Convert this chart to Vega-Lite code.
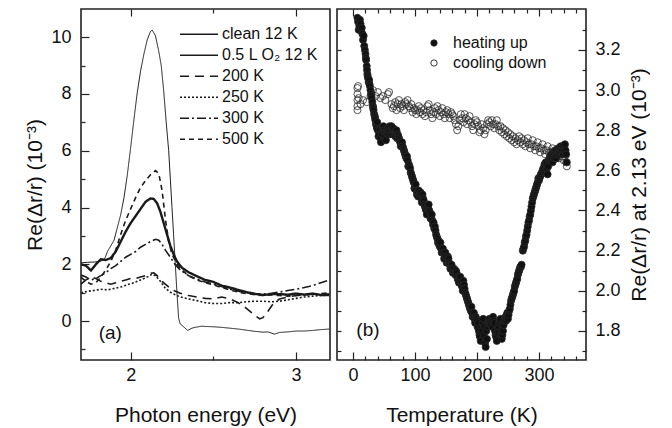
{
  "$schema": "https://vega.github.io/schema/vega-lite/v6.json",
  "padding": {"left": 24, "top": 7, "right": 0, "bottom": 0},
  "spacing": 4,
  "config": {
    "view": {"stroke": "#222", "strokeWidth": 1.6},
    "font": "Liberation Sans",
    "axis": {"domain": false, "grid": false, "tickColor": "#222", "tickWidth": 1.2, "labelFont": "Liberation Sans", "labelFontSize": 18, "labelColor": "#111", "titleFont": "Liberation Sans", "titleFontSize": 21, "titleFontWeight": "normal", "titleColor": "#111", "labelOverlap": false, "labelFlush": false}
  },
  "datasets": {
    "spectra": [
      {"s":"clean 12 K","e":1.70,"v":2.05},{"s":"clean 12 K","e":1.74,"v":2.07},{"s":"clean 12 K","e":1.78,"v":2.08},{"s":"clean 12 K","e":1.81,"v":2.10},{"s":"clean 12 K","e":1.84,"v":2.15},{"s":"clean 12 K","e":1.86,"v":2.45},{"s":"clean 12 K","e":1.88,"v":2.65},{"s":"clean 12 K","e":1.90,"v":2.85},{"s":"clean 12 K","e":1.92,"v":3.3},{"s":"clean 12 K","e":1.94,"v":3.75},{"s":"clean 12 K","e":1.96,"v":4.35},{"s":"clean 12 K","e":1.98,"v":5.15},{"s":"clean 12 K","e":2.00,"v":6.1},{"s":"clean 12 K","e":2.02,"v":7.1},{"s":"clean 12 K","e":2.04,"v":8.05},{"s":"clean 12 K","e":2.06,"v":8.8},{"s":"clean 12 K","e":2.08,"v":9.4},{"s":"clean 12 K","e":2.10,"v":9.9},{"s":"clean 12 K","e":2.12,"v":10.2},{"s":"clean 12 K","e":2.13,"v":10.25},{"s":"clean 12 K","e":2.15,"v":10.05},{"s":"clean 12 K","e":2.17,"v":9.5},{"s":"clean 12 K","e":2.185,"v":9.0},{"s":"clean 12 K","e":2.20,"v":8.1},{"s":"clean 12 K","e":2.215,"v":7.0},{"s":"clean 12 K","e":2.23,"v":6.0},{"s":"clean 12 K","e":2.24,"v":5.0},{"s":"clean 12 K","e":2.25,"v":4.0},{"s":"clean 12 K","e":2.26,"v":3.0},{"s":"clean 12 K","e":2.27,"v":2.0},{"s":"clean 12 K","e":2.28,"v":1.0},{"s":"clean 12 K","e":2.29,"v":0.1},{"s":"clean 12 K","e":2.30,"v":-0.1},{"s":"clean 12 K","e":2.32,"v":-0.2},{"s":"clean 12 K","e":2.345,"v":-0.33},{"s":"clean 12 K","e":2.37,"v":-0.25},{"s":"clean 12 K","e":2.39,"v":-0.22},{"s":"clean 12 K","e":2.41,"v":-0.2},{"s":"clean 12 K","e":2.43,"v":-0.18},{"s":"clean 12 K","e":2.46,"v":-0.19},{"s":"clean 12 K","e":2.50,"v":-0.2},{"s":"clean 12 K","e":2.55,"v":-0.22},{"s":"clean 12 K","e":2.60,"v":-0.25},{"s":"clean 12 K","e":2.65,"v":-0.28},{"s":"clean 12 K","e":2.70,"v":-0.32},{"s":"clean 12 K","e":2.75,"v":-0.36},{"s":"clean 12 K","e":2.80,"v":-0.39},{"s":"clean 12 K","e":2.83,"v":-0.38},{"s":"clean 12 K","e":2.87,"v":-0.46},{"s":"clean 12 K","e":2.90,"v":-0.4},{"s":"clean 12 K","e":2.95,"v":-0.38},{"s":"clean 12 K","e":3.00,"v":-0.35},{"s":"clean 12 K","e":3.05,"v":-0.35},{"s":"clean 12 K","e":3.10,"v":-0.33},{"s":"clean 12 K","e":3.15,"v":-0.3},{"s":"clean 12 K","e":3.20,"v":-0.28},
      {"s":"0.5 L O₂ 12 K","e":1.70,"v":2.0},{"s":"0.5 L O₂ 12 K","e":1.73,"v":1.95},{"s":"0.5 L O₂ 12 K","e":1.76,"v":1.78},{"s":"0.5 L O₂ 12 K","e":1.79,"v":2.0},{"s":"0.5 L O₂ 12 K","e":1.82,"v":2.18},{"s":"0.5 L O₂ 12 K","e":1.85,"v":2.15},{"s":"0.5 L O₂ 12 K","e":1.88,"v":2.22},{"s":"0.5 L O₂ 12 K","e":1.91,"v":2.45},{"s":"0.5 L O₂ 12 K","e":1.94,"v":2.8},{"s":"0.5 L O₂ 12 K","e":1.97,"v":3.15},{"s":"0.5 L O₂ 12 K","e":2.00,"v":3.45},{"s":"0.5 L O₂ 12 K","e":2.03,"v":3.7},{"s":"0.5 L O₂ 12 K","e":2.06,"v":3.95},{"s":"0.5 L O₂ 12 K","e":2.09,"v":4.2},{"s":"0.5 L O₂ 12 K","e":2.12,"v":4.32},{"s":"0.5 L O₂ 12 K","e":2.14,"v":4.3},{"s":"0.5 L O₂ 12 K","e":2.16,"v":4.15},{"s":"0.5 L O₂ 12 K","e":2.18,"v":3.85},{"s":"0.5 L O₂ 12 K","e":2.20,"v":3.45},{"s":"0.5 L O₂ 12 K","e":2.22,"v":3.05},{"s":"0.5 L O₂ 12 K","e":2.24,"v":2.65},{"s":"0.5 L O₂ 12 K","e":2.26,"v":2.35},{"s":"0.5 L O₂ 12 K","e":2.28,"v":2.1},{"s":"0.5 L O₂ 12 K","e":2.31,"v":1.88},{"s":"0.5 L O₂ 12 K","e":2.35,"v":1.72},{"s":"0.5 L O₂ 12 K","e":2.40,"v":1.58},{"s":"0.5 L O₂ 12 K","e":2.45,"v":1.45},{"s":"0.5 L O₂ 12 K","e":2.50,"v":1.38},{"s":"0.5 L O₂ 12 K","e":2.55,"v":1.25},{"s":"0.5 L O₂ 12 K","e":2.60,"v":1.18},{"s":"0.5 L O₂ 12 K","e":2.65,"v":1.1},{"s":"0.5 L O₂ 12 K","e":2.70,"v":1.02},{"s":"0.5 L O₂ 12 K","e":2.75,"v":0.96},{"s":"0.5 L O₂ 12 K","e":2.80,"v":0.92},{"s":"0.5 L O₂ 12 K","e":2.85,"v":0.95},{"s":"0.5 L O₂ 12 K","e":2.90,"v":0.95},{"s":"0.5 L O₂ 12 K","e":2.95,"v":0.93},{"s":"0.5 L O₂ 12 K","e":3.00,"v":0.97},{"s":"0.5 L O₂ 12 K","e":3.05,"v":0.93},{"s":"0.5 L O₂ 12 K","e":3.10,"v":0.97},{"s":"0.5 L O₂ 12 K","e":3.15,"v":0.92},{"s":"0.5 L O₂ 12 K","e":3.20,"v":0.92},
      {"s":"200 K","e":1.70,"v":1.3},{"s":"200 K","e":1.73,"v":1.45},{"s":"200 K","e":1.76,"v":1.55},{"s":"200 K","e":1.79,"v":1.5},{"s":"200 K","e":1.82,"v":1.4},{"s":"200 K","e":1.85,"v":1.35},{"s":"200 K","e":1.88,"v":1.3},{"s":"200 K","e":1.91,"v":1.35},{"s":"200 K","e":1.94,"v":1.4},{"s":"200 K","e":1.97,"v":1.45},{"s":"200 K","e":2.00,"v":1.5},{"s":"200 K","e":2.03,"v":1.5},{"s":"200 K","e":2.06,"v":1.55},{"s":"200 K","e":2.09,"v":1.6},{"s":"200 K","e":2.12,"v":1.68},{"s":"200 K","e":2.14,"v":1.7},{"s":"200 K","e":2.16,"v":1.6},{"s":"200 K","e":2.19,"v":1.4},{"s":"200 K","e":2.22,"v":1.25},{"s":"200 K","e":2.25,"v":1.1},{"s":"200 K","e":2.30,"v":0.98},{"s":"200 K","e":2.35,"v":0.9},{"s":"200 K","e":2.40,"v":0.85},{"s":"200 K","e":2.45,"v":0.8},{"s":"200 K","e":2.50,"v":0.78},{"s":"200 K","e":2.55,"v":0.85},{"s":"200 K","e":2.60,"v":0.78},{"s":"200 K","e":2.65,"v":0.65},{"s":"200 K","e":2.70,"v":0.45},{"s":"200 K","e":2.74,"v":0.25},{"s":"200 K","e":2.78,"v":0.08},{"s":"200 K","e":2.80,"v":0.12},{"s":"200 K","e":2.83,"v":0.35},{"s":"200 K","e":2.86,"v":0.6},{"s":"200 K","e":2.90,"v":0.78},{"s":"200 K","e":2.95,"v":0.85},{"s":"200 K","e":3.00,"v":0.9},{"s":"200 K","e":3.05,"v":0.92},{"s":"200 K","e":3.10,"v":0.95},{"s":"200 K","e":3.15,"v":0.95},{"s":"200 K","e":3.20,"v":0.95},
      {"s":"250 K","e":1.70,"v":1.0},{"s":"250 K","e":1.74,"v":1.05},{"s":"250 K","e":1.78,"v":1.08},{"s":"250 K","e":1.82,"v":1.12},{"s":"250 K","e":1.86,"v":1.1},{"s":"250 K","e":1.90,"v":1.15},{"s":"250 K","e":1.94,"v":1.2},{"s":"250 K","e":1.98,"v":1.28},{"s":"250 K","e":2.02,"v":1.35},{"s":"250 K","e":2.06,"v":1.45},{"s":"250 K","e":2.10,"v":1.55},{"s":"250 K","e":2.13,"v":1.65},{"s":"250 K","e":2.15,"v":1.6},{"s":"250 K","e":2.18,"v":1.4},{"s":"250 K","e":2.21,"v":1.15},{"s":"250 K","e":2.25,"v":0.98},{"s":"250 K","e":2.30,"v":0.85},{"s":"250 K","e":2.35,"v":0.78},{"s":"250 K","e":2.40,"v":0.72},{"s":"250 K","e":2.45,"v":0.65},{"s":"250 K","e":2.50,"v":0.62},{"s":"250 K","e":2.55,"v":0.62},{"s":"250 K","e":2.60,"v":0.65},{"s":"250 K","e":2.65,"v":0.65},{"s":"250 K","e":2.70,"v":0.68},{"s":"250 K","e":2.75,"v":0.7},{"s":"250 K","e":2.80,"v":0.7},{"s":"250 K","e":2.85,"v":0.68},{"s":"250 K","e":2.90,"v":0.7},{"s":"250 K","e":2.95,"v":0.75},{"s":"250 K","e":3.00,"v":0.8},{"s":"250 K","e":3.05,"v":0.85},{"s":"250 K","e":3.10,"v":0.88},{"s":"250 K","e":3.15,"v":0.9},{"s":"250 K","e":3.20,"v":0.92},
      {"s":"300 K","e":1.70,"v":1.62},{"s":"300 K","e":1.73,"v":1.55},{"s":"300 K","e":1.76,"v":1.45},{"s":"300 K","e":1.79,"v":1.5},{"s":"300 K","e":1.82,"v":1.6},{"s":"300 K","e":1.85,"v":1.7},{"s":"300 K","e":1.88,"v":1.85},{"s":"300 K","e":1.91,"v":1.95},{"s":"300 K","e":1.94,"v":2.1},{"s":"300 K","e":1.97,"v":2.25},{"s":"300 K","e":2.00,"v":2.35},{"s":"300 K","e":2.03,"v":2.45},{"s":"300 K","e":2.06,"v":2.6},{"s":"300 K","e":2.09,"v":2.7},{"s":"300 K","e":2.12,"v":2.8},{"s":"300 K","e":2.15,"v":2.88},{"s":"300 K","e":2.17,"v":2.85},{"s":"300 K","e":2.19,"v":2.7},{"s":"300 K","e":2.21,"v":2.5},{"s":"300 K","e":2.24,"v":2.25},{"s":"300 K","e":2.27,"v":1.98},{"s":"300 K","e":2.30,"v":1.8},{"s":"300 K","e":2.35,"v":1.6},{"s":"300 K","e":2.40,"v":1.48},{"s":"300 K","e":2.45,"v":1.38},{"s":"300 K","e":2.50,"v":1.3},{"s":"300 K","e":2.55,"v":1.22},{"s":"300 K","e":2.60,"v":1.12},{"s":"300 K","e":2.65,"v":1.05},{"s":"300 K","e":2.70,"v":1.0},{"s":"300 K","e":2.75,"v":0.97},{"s":"300 K","e":2.80,"v":0.95},{"s":"300 K","e":2.85,"v":0.98},{"s":"300 K","e":2.90,"v":1.02},{"s":"300 K","e":2.95,"v":1.08},{"s":"300 K","e":3.00,"v":1.12},{"s":"300 K","e":3.05,"v":1.18},{"s":"300 K","e":3.10,"v":1.25},{"s":"300 K","e":3.15,"v":1.35},{"s":"300 K","e":3.20,"v":1.45},
      {"s":"500 K","e":1.70,"v":1.55},{"s":"500 K","e":1.73,"v":1.4},{"s":"500 K","e":1.76,"v":1.3},{"s":"500 K","e":1.79,"v":1.35},{"s":"500 K","e":1.82,"v":1.55},{"s":"500 K","e":1.85,"v":1.8},{"s":"500 K","e":1.88,"v":2.1},{"s":"500 K","e":1.91,"v":2.5},{"s":"500 K","e":1.94,"v":3.05},{"s":"500 K","e":1.97,"v":3.55},{"s":"500 K","e":2.00,"v":3.95},{"s":"500 K","e":2.03,"v":4.35},{"s":"500 K","e":2.06,"v":4.7},{"s":"500 K","e":2.09,"v":4.95},{"s":"500 K","e":2.12,"v":5.15},{"s":"500 K","e":2.15,"v":5.3},{"s":"500 K","e":2.17,"v":5.2},{"s":"500 K","e":2.19,"v":4.6},{"s":"500 K","e":2.21,"v":3.6},{"s":"500 K","e":2.23,"v":2.8},{"s":"500 K","e":2.25,"v":2.35},{"s":"500 K","e":2.28,"v":2.0},{"s":"500 K","e":2.31,"v":1.8},{"s":"500 K","e":2.35,"v":1.6},{"s":"500 K","e":2.40,"v":1.45},{"s":"500 K","e":2.45,"v":1.35},{"s":"500 K","e":2.50,"v":1.28},{"s":"500 K","e":2.55,"v":1.18},{"s":"500 K","e":2.60,"v":1.1},{"s":"500 K","e":2.65,"v":1.02},{"s":"500 K","e":2.70,"v":0.97},{"s":"500 K","e":2.75,"v":0.93},{"s":"500 K","e":2.80,"v":0.9},{"s":"500 K","e":2.85,"v":0.92},{"s":"500 K","e":2.90,"v":0.9},{"s":"500 K","e":2.95,"v":0.88},{"s":"500 K","e":3.00,"v":0.9},{"s":"500 K","e":3.05,"v":0.93},{"s":"500 K","e":3.10,"v":0.95},{"s":"500 K","e":3.15,"v":0.97},{"s":"500 K","e":3.20,"v":1.0}
    ],
    "temp": [
      {"d":"cooling down","t":7,"v":2.90},{"d":"cooling down","t":7,"v":2.92},{"d":"cooling down","t":7,"v":2.95},{"d":"cooling down","t":7,"v":2.98},{"d":"cooling down","t":7,"v":3.01},{"d":"cooling down","t":8,"v":3.02},{"d":"cooling down","t":9,"v":2.96},{"d":"cooling down","t":12,"v":2.93},{"d":"cooling down","t":16,"v":2.95},{"d":"cooling down","t":22,"v":2.94},{"d":"cooling down","t":28,"v":2.97},{"d":"cooling down","t":32,"v":3.0},{"d":"cooling down","t":36,"v":2.97},{"d":"cooling down","t":40,"v":2.99},{"d":"cooling down","t":44,"v":2.96},{"d":"cooling down","t":48,"v":2.97},{"d":"cooling down","t":52,"v":2.95},{"d":"cooling down","t":56,"v":2.98},{"d":"cooling down","t":58,"v":2.99},{"d":"cooling down","t":62,"v":2.93},{"d":"cooling down","t":64,"v":2.91},{"d":"cooling down","t":66,"v":2.92},{"d":"cooling down","t":68,"v":2.94},{"d":"cooling down","t":70,"v":2.9},{"d":"cooling down","t":72,"v":2.93},{"d":"cooling down","t":74,"v":2.95},{"d":"cooling down","t":76,"v":2.91},{"d":"cooling down","t":78,"v":2.93},{"d":"cooling down","t":80,"v":2.92},{"d":"cooling down","t":82,"v":2.9},{"d":"cooling down","t":84,"v":2.94},{"d":"cooling down","t":86,"v":2.93},{"d":"cooling down","t":88,"v":2.95},{"d":"cooling down","t":90,"v":2.92},{"d":"cooling down","t":92,"v":2.91},{"d":"cooling down","t":94,"v":2.93},{"d":"cooling down","t":96,"v":2.89},{"d":"cooling down","t":98,"v":2.91},{"d":"cooling down","t":100,"v":2.9},{"d":"cooling down","t":102,"v":2.88},{"d":"cooling down","t":104,"v":2.9},{"d":"cooling down","t":106,"v":2.92},{"d":"cooling down","t":108,"v":2.89},{"d":"cooling down","t":110,"v":2.91},{"d":"cooling down","t":112,"v":2.88},{"d":"cooling down","t":114,"v":2.9},{"d":"cooling down","t":116,"v":2.87},{"d":"cooling down","t":118,"v":2.89},{"d":"cooling down","t":120,"v":2.92},{"d":"cooling down","t":122,"v":2.93},{"d":"cooling down","t":124,"v":2.9},{"d":"cooling down","t":126,"v":2.88},{"d":"cooling down","t":128,"v":2.86},{"d":"cooling down","t":130,"v":2.89},{"d":"cooling down","t":132,"v":2.91},{"d":"cooling down","t":134,"v":2.88},{"d":"cooling down","t":136,"v":2.92},{"d":"cooling down","t":138,"v":2.9},{"d":"cooling down","t":140,"v":2.87},{"d":"cooling down","t":142,"v":2.89},{"d":"cooling down","t":144,"v":2.91},{"d":"cooling down","t":146,"v":2.88},{"d":"cooling down","t":148,"v":2.86},{"d":"cooling down","t":150,"v":2.89},{"d":"cooling down","t":152,"v":2.9},{"d":"cooling down","t":154,"v":2.88},{"d":"cooling down","t":156,"v":2.86},{"d":"cooling down","t":158,"v":2.89},{"d":"cooling down","t":160,"v":2.88},{"d":"cooling down","t":162,"v":2.87},{"d":"cooling down","t":164,"v":2.85},{"d":"cooling down","t":166,"v":2.83},{"d":"cooling down","t":168,"v":2.8},{"d":"cooling down","t":170,"v":2.82},{"d":"cooling down","t":172,"v":2.85},{"d":"cooling down","t":174,"v":2.88},{"d":"cooling down","t":176,"v":2.86},{"d":"cooling down","t":178,"v":2.84},{"d":"cooling down","t":180,"v":2.88},{"d":"cooling down","t":182,"v":2.86},{"d":"cooling down","t":184,"v":2.83},{"d":"cooling down","t":186,"v":2.85},{"d":"cooling down","t":188,"v":2.87},{"d":"cooling down","t":190,"v":2.84},{"d":"cooling down","t":192,"v":2.82},{"d":"cooling down","t":194,"v":2.8},{"d":"cooling down","t":196,"v":2.83},{"d":"cooling down","t":198,"v":2.85},{"d":"cooling down","t":200,"v":2.84},{"d":"cooling down","t":202,"v":2.82},{"d":"cooling down","t":204,"v":2.79},{"d":"cooling down","t":206,"v":2.8},{"d":"cooling down","t":208,"v":2.83},{"d":"cooling down","t":210,"v":2.81},{"d":"cooling down","t":212,"v":2.78},{"d":"cooling down","t":214,"v":2.8},{"d":"cooling down","t":216,"v":2.83},{"d":"cooling down","t":218,"v":2.85},{"d":"cooling down","t":220,"v":2.84},{"d":"cooling down","t":222,"v":2.82},{"d":"cooling down","t":224,"v":2.85},{"d":"cooling down","t":226,"v":2.83},{"d":"cooling down","t":228,"v":2.81},{"d":"cooling down","t":230,"v":2.83},{"d":"cooling down","t":232,"v":2.85},{"d":"cooling down","t":234,"v":2.82},{"d":"cooling down","t":236,"v":2.8},{"d":"cooling down","t":238,"v":2.82},{"d":"cooling down","t":240,"v":2.79},{"d":"cooling down","t":242,"v":2.81},{"d":"cooling down","t":244,"v":2.78},{"d":"cooling down","t":246,"v":2.8},{"d":"cooling down","t":248,"v":2.77},{"d":"cooling down","t":250,"v":2.79},{"d":"cooling down","t":252,"v":2.76},{"d":"cooling down","t":254,"v":2.78},{"d":"cooling down","t":256,"v":2.75},{"d":"cooling down","t":258,"v":2.77},{"d":"cooling down","t":260,"v":2.74},{"d":"cooling down","t":262,"v":2.76},{"d":"cooling down","t":264,"v":2.73},{"d":"cooling down","t":266,"v":2.75},{"d":"cooling down","t":268,"v":2.77},{"d":"cooling down","t":270,"v":2.74},{"d":"cooling down","t":272,"v":2.76},{"d":"cooling down","t":274,"v":2.73},{"d":"cooling down","t":276,"v":2.75},{"d":"cooling down","t":278,"v":2.72},{"d":"cooling down","t":280,"v":2.74},{"d":"cooling down","t":282,"v":2.76},{"d":"cooling down","t":284,"v":2.73},{"d":"cooling down","t":286,"v":2.71},{"d":"cooling down","t":288,"v":2.73},{"d":"cooling down","t":290,"v":2.75},{"d":"cooling down","t":292,"v":2.72},{"d":"cooling down","t":294,"v":2.7},{"d":"cooling down","t":296,"v":2.72},{"d":"cooling down","t":298,"v":2.74},{"d":"cooling down","t":300,"v":2.71},{"d":"cooling down","t":302,"v":2.69},{"d":"cooling down","t":304,"v":2.71},{"d":"cooling down","t":306,"v":2.73},{"d":"cooling down","t":308,"v":2.7},{"d":"cooling down","t":310,"v":2.68},{"d":"cooling down","t":312,"v":2.7},{"d":"cooling down","t":314,"v":2.72},{"d":"cooling down","t":316,"v":2.69},{"d":"cooling down","t":318,"v":2.67},{"d":"cooling down","t":320,"v":2.69},{"d":"cooling down","t":322,"v":2.71},{"d":"cooling down","t":324,"v":2.68},{"d":"cooling down","t":326,"v":2.7},{"d":"cooling down","t":328,"v":2.67},{"d":"cooling down","t":330,"v":2.69},{"d":"cooling down","t":332,"v":2.66},{"d":"cooling down","t":334,"v":2.68},{"d":"cooling down","t":336,"v":2.7},{"d":"cooling down","t":338,"v":2.67},{"d":"cooling down","t":340,"v":2.65},{"d":"cooling down","t":342,"v":2.67},{"d":"cooling down","t":344,"v":2.64},{"d":"cooling down","t":345,"v":2.62},
      {"d":"heating up","t":7,"v":3.36},{"d":"heating up","t":8,"v":3.34},{"d":"heating up","t":9,"v":3.3},{"d":"heating up","t":10,"v":3.32},{"d":"heating up","t":11,"v":3.35},{"d":"heating up","t":12,"v":3.33},{"d":"heating up","t":13,"v":3.3},{"d":"heating up","t":14,"v":3.31},{"d":"heating up","t":15,"v":3.28},{"d":"heating up","t":16,"v":3.25},{"d":"heating up","t":17,"v":3.27},{"d":"heating up","t":18,"v":3.22},{"d":"heating up","t":19,"v":3.2},{"d":"heating up","t":20,"v":3.18},{"d":"heating up","t":20.5,"v":3.16},{"d":"heating up","t":21,"v":3.15},{"d":"heating up","t":22,"v":3.12},{"d":"heating up","t":22.5,"v":3.1},{"d":"heating up","t":23,"v":3.08},{"d":"heating up","t":23.5,"v":3.07},{"d":"heating up","t":24,"v":3.06},{"d":"heating up","t":25,"v":3.04},{"d":"heating up","t":26,"v":3.05},{"d":"heating up","t":26.5,"v":3.03},{"d":"heating up","t":27,"v":3.02},{"d":"heating up","t":28,"v":3.0},{"d":"heating up","t":29,"v":2.98},{"d":"heating up","t":29.5,"v":2.97},{"d":"heating up","t":30,"v":2.96},{"d":"heating up","t":31,"v":2.94},{"d":"heating up","t":32,"v":2.92},{"d":"heating up","t":32.5,"v":2.91},{"d":"heating up","t":33,"v":2.9},{"d":"heating up","t":34,"v":2.88},{"d":"heating up","t":35,"v":2.87},{"d":"heating up","t":35.5,"v":2.86},{"d":"heating up","t":36,"v":2.85},{"d":"heating up","t":37,"v":2.83},{"d":"heating up","t":38,"v":2.82},{"d":"heating up","t":38.5,"v":2.81},{"d":"heating up","t":39,"v":2.84},{"d":"heating up","t":40,"v":2.8},{"d":"heating up","t":41,"v":2.77},{"d":"heating up","t":42,"v":2.78},{"d":"heating up","t":43,"v":2.8},{"d":"heating up","t":44,"v":2.76},{"d":"heating up","t":45,"v":2.74},{"d":"heating up","t":46,"v":2.79},{"d":"heating up","t":47,"v":2.78},{"d":"heating up","t":48,"v":2.81},{"d":"heating up","t":49,"v":2.82},{"d":"heating up","t":50,"v":2.8},{"d":"heating up","t":51,"v":2.79},{"d":"heating up","t":52,"v":2.77},{"d":"heating up","t":53,"v":2.75},{"d":"heating up","t":54,"v":2.79},{"d":"heating up","t":55,"v":2.8},{"d":"heating up","t":56,"v":2.81},{"d":"heating up","t":57,"v":2.78},{"d":"heating up","t":58,"v":2.8},{"d":"heating up","t":59,"v":2.82},{"d":"heating up","t":60,"v":2.78},{"d":"heating up","t":61,"v":2.8},{"d":"heating up","t":62,"v":2.82},{"d":"heating up","t":63,"v":2.78},{"d":"heating up","t":64,"v":2.8},{"d":"heating up","t":65,"v":2.81},{"d":"heating up","t":66,"v":2.79},{"d":"heating up","t":67,"v":2.78},{"d":"heating up","t":68,"v":2.77},{"d":"heating up","t":69,"v":2.79},{"d":"heating up","t":70,"v":2.8},{"d":"heating up","t":71,"v":2.76},{"d":"heating up","t":72,"v":2.78},{"d":"heating up","t":73,"v":2.77},{"d":"heating up","t":74,"v":2.76},{"d":"heating up","t":75,"v":2.75},{"d":"heating up","t":76,"v":2.74},{"d":"heating up","t":77,"v":2.72},{"d":"heating up","t":78,"v":2.73},{"d":"heating up","t":79,"v":2.74},{"d":"heating up","t":80,"v":2.72},{"d":"heating up","t":81,"v":2.71},{"d":"heating up","t":82,"v":2.7},{"d":"heating up","t":83,"v":2.69},{"d":"heating up","t":84,"v":2.68},{"d":"heating up","t":85,"v":2.67},{"d":"heating up","t":86,"v":2.66},{"d":"heating up","t":87,"v":2.67},{"d":"heating up","t":88,"v":2.65},{"d":"heating up","t":89,"v":2.62},{"d":"heating up","t":90,"v":2.63},{"d":"heating up","t":91,"v":2.62},{"d":"heating up","t":92,"v":2.61},{"d":"heating up","t":93,"v":2.59},{"d":"heating up","t":94,"v":2.58},{"d":"heating up","t":95,"v":2.57},{"d":"heating up","t":96,"v":2.56},{"d":"heating up","t":97,"v":2.55},{"d":"heating up","t":98,"v":2.54},{"d":"heating up","t":99,"v":2.51},{"d":"heating up","t":100,"v":2.52},{"d":"heating up","t":101,"v":2.53},{"d":"heating up","t":102,"v":2.5},{"d":"heating up","t":103,"v":2.48},{"d":"heating up","t":104,"v":2.49},{"d":"heating up","t":105,"v":2.47},{"d":"heating up","t":106,"v":2.5},{"d":"heating up","t":107,"v":2.48},{"d":"heating up","t":108,"v":2.47},{"d":"heating up","t":109,"v":2.49},{"d":"heating up","t":110,"v":2.46},{"d":"heating up","t":111,"v":2.44},{"d":"heating up","t":112,"v":2.48},{"d":"heating up","t":113,"v":2.46},{"d":"heating up","t":114,"v":2.45},{"d":"heating up","t":115,"v":2.43},{"d":"heating up","t":116,"v":2.42},{"d":"heating up","t":117,"v":2.41},{"d":"heating up","t":118,"v":2.4},{"d":"heating up","t":119,"v":2.38},{"d":"heating up","t":120,"v":2.41},{"d":"heating up","t":121,"v":2.42},{"d":"heating up","t":122,"v":2.43},{"d":"heating up","t":123,"v":2.4},{"d":"heating up","t":124,"v":2.39},{"d":"heating up","t":125,"v":2.36},{"d":"heating up","t":126,"v":2.37},{"d":"heating up","t":127,"v":2.38},{"d":"heating up","t":128,"v":2.35},{"d":"heating up","t":129,"v":2.33},{"d":"heating up","t":130,"v":2.34},{"d":"heating up","t":131,"v":2.31},{"d":"heating up","t":132,"v":2.32},{"d":"heating up","t":133,"v":2.3},{"d":"heating up","t":134,"v":2.28},{"d":"heating up","t":135,"v":2.27},{"d":"heating up","t":136,"v":2.26},{"d":"heating up","t":137,"v":2.24},{"d":"heating up","t":138,"v":2.25},{"d":"heating up","t":139,"v":2.23},{"d":"heating up","t":140,"v":2.22},{"d":"heating up","t":141,"v":2.24},{"d":"heating up","t":142,"v":2.21},{"d":"heating up","t":143,"v":2.19},{"d":"heating up","t":144,"v":2.2},{"d":"heating up","t":145,"v":2.21},{"d":"heating up","t":146,"v":2.19},{"d":"heating up","t":147,"v":2.16},{"d":"heating up","t":148,"v":2.18},{"d":"heating up","t":149,"v":2.19},{"d":"heating up","t":150,"v":2.17},{"d":"heating up","t":151,"v":2.14},{"d":"heating up","t":152,"v":2.15},{"d":"heating up","t":153,"v":2.17},{"d":"heating up","t":154,"v":2.16},{"d":"heating up","t":155,"v":2.14},{"d":"heating up","t":156,"v":2.13},{"d":"heating up","t":157,"v":2.11},{"d":"heating up","t":158,"v":2.12},{"d":"heating up","t":159,"v":2.13},{"d":"heating up","t":160,"v":2.11},{"d":"heating up","t":161,"v":2.09},{"d":"heating up","t":162,"v":2.1},{"d":"heating up","t":163,"v":2.11},{"d":"heating up","t":164,"v":2.09},{"d":"heating up","t":165,"v":2.08},{"d":"heating up","t":166,"v":2.1},{"d":"heating up","t":167,"v":2.09},{"d":"heating up","t":168,"v":2.07},{"d":"heating up","t":169,"v":2.06},{"d":"heating up","t":170,"v":2.05},{"d":"heating up","t":171,"v":2.04},{"d":"heating up","t":172,"v":2.06},{"d":"heating up","t":173,"v":2.07},{"d":"heating up","t":174,"v":2.04},{"d":"heating up","t":175,"v":2.03},{"d":"heating up","t":176,"v":2.02},{"d":"heating up","t":177,"v":2.0},{"d":"heating up","t":178,"v":2.05},{"d":"heating up","t":179,"v":2.03},{"d":"heating up","t":180,"v":2.01},{"d":"heating up","t":181,"v":1.99},{"d":"heating up","t":182,"v":1.98},{"d":"heating up","t":183,"v":1.97},{"d":"heating up","t":184,"v":1.96},{"d":"heating up","t":185,"v":1.95},{"d":"heating up","t":186,"v":1.94},{"d":"heating up","t":187,"v":1.93},{"d":"heating up","t":188,"v":1.92},{"d":"heating up","t":189,"v":1.91},{"d":"heating up","t":190,"v":1.9},{"d":"heating up","t":191,"v":1.92},{"d":"heating up","t":192,"v":1.89},{"d":"heating up","t":193,"v":1.87},{"d":"heating up","t":194,"v":1.88},{"d":"heating up","t":195,"v":1.89},{"d":"heating up","t":196,"v":1.86},{"d":"heating up","t":197,"v":1.84},{"d":"heating up","t":198,"v":1.87},{"d":"heating up","t":199,"v":1.86},{"d":"heating up","t":200,"v":1.85},{"d":"heating up","t":201,"v":1.82},{"d":"heating up","t":202,"v":1.84},{"d":"heating up","t":203,"v":1.8},{"d":"heating up","t":204,"v":1.78},{"d":"heating up","t":205,"v":1.77},{"d":"heating up","t":206,"v":1.75},{"d":"heating up","t":207,"v":1.82},{"d":"heating up","t":208,"v":1.8},{"d":"heating up","t":209,"v":1.84},{"d":"heating up","t":210,"v":1.86},{"d":"heating up","t":211,"v":1.78},{"d":"heating up","t":212,"v":1.82},{"d":"heating up","t":213,"v":1.74},{"d":"heating up","t":214,"v":1.72},{"d":"heating up","t":215,"v":1.8},{"d":"heating up","t":216,"v":1.76},{"d":"heating up","t":217,"v":1.82},{"d":"heating up","t":218,"v":1.84},{"d":"heating up","t":219,"v":1.85},{"d":"heating up","t":220,"v":1.86},{"d":"heating up","t":221,"v":1.84},{"d":"heating up","t":222,"v":1.83},{"d":"heating up","t":223,"v":1.86},{"d":"heating up","t":224,"v":1.85},{"d":"heating up","t":225,"v":1.82},{"d":"heating up","t":226,"v":1.87},{"d":"heating up","t":227,"v":1.85},{"d":"heating up","t":228,"v":1.84},{"d":"heating up","t":229,"v":1.8},{"d":"heating up","t":230,"v":1.78},{"d":"heating up","t":231,"v":1.77},{"d":"heating up","t":232,"v":1.75},{"d":"heating up","t":233,"v":1.79},{"d":"heating up","t":234,"v":1.8},{"d":"heating up","t":235,"v":1.82},{"d":"heating up","t":236,"v":1.84},{"d":"heating up","t":237,"v":1.85},{"d":"heating up","t":238,"v":1.86},{"d":"heating up","t":239,"v":1.8},{"d":"heating up","t":240,"v":1.76},{"d":"heating up","t":241,"v":1.78},{"d":"heating up","t":242,"v":1.8},{"d":"heating up","t":243,"v":1.83},{"d":"heating up","t":244,"v":1.85},{"d":"heating up","t":245,"v":1.86},{"d":"heating up","t":246,"v":1.87},{"d":"heating up","t":247,"v":1.85},{"d":"heating up","t":248,"v":1.88},{"d":"heating up","t":249,"v":1.89},{"d":"heating up","t":250,"v":1.86},{"d":"heating up","t":251,"v":1.88},{"d":"heating up","t":252,"v":1.9},{"d":"heating up","t":253,"v":1.91},{"d":"heating up","t":254,"v":1.93},{"d":"heating up","t":255,"v":1.95},{"d":"heating up","t":256,"v":1.96},{"d":"heating up","t":257,"v":1.97},{"d":"heating up","t":258,"v":1.98},{"d":"heating up","t":259,"v":1.99},{"d":"heating up","t":260,"v":2.0},{"d":"heating up","t":261,"v":2.02},{"d":"heating up","t":262,"v":2.03},{"d":"heating up","t":263,"v":2.04},{"d":"heating up","t":264,"v":2.05},{"d":"heating up","t":265,"v":2.06},{"d":"heating up","t":266,"v":2.08},{"d":"heating up","t":267,"v":2.09},{"d":"heating up","t":268,"v":2.1},{"d":"heating up","t":269,"v":2.11},{"d":"heating up","t":270,"v":2.12},{"d":"heating up","t":271,"v":2.12},{"d":"heating up","t":272,"v":2.13},{"d":"heating up","t":274,"v":2.2},{"d":"heating up","t":275,"v":2.21},{"d":"heating up","t":276,"v":2.22},{"d":"heating up","t":277,"v":2.24},{"d":"heating up","t":278,"v":2.25},{"d":"heating up","t":279,"v":2.27},{"d":"heating up","t":280,"v":2.28},{"d":"heating up","t":281,"v":2.3},{"d":"heating up","t":282,"v":2.32},{"d":"heating up","t":283,"v":2.34},{"d":"heating up","t":284,"v":2.35},{"d":"heating up","t":285,"v":2.37},{"d":"heating up","t":286,"v":2.38},{"d":"heating up","t":287,"v":2.4},{"d":"heating up","t":288,"v":2.42},{"d":"heating up","t":289,"v":2.44},{"d":"heating up","t":290,"v":2.46},{"d":"heating up","t":291,"v":2.47},{"d":"heating up","t":292,"v":2.48},{"d":"heating up","t":293,"v":2.49},{"d":"heating up","t":294,"v":2.5},{"d":"heating up","t":295,"v":2.51},{"d":"heating up","t":296,"v":2.52},{"d":"heating up","t":297,"v":2.53},{"d":"heating up","t":298,"v":2.54},{"d":"heating up","t":299,"v":2.56},{"d":"heating up","t":300,"v":2.55},{"d":"heating up","t":301,"v":2.56},{"d":"heating up","t":302,"v":2.57},{"d":"heating up","t":303,"v":2.58},{"d":"heating up","t":304,"v":2.58},{"d":"heating up","t":305,"v":2.59},{"d":"heating up","t":306,"v":2.6},{"d":"heating up","t":307,"v":2.61},{"d":"heating up","t":308,"v":2.61},{"d":"heating up","t":309,"v":2.63},{"d":"heating up","t":310,"v":2.62},{"d":"heating up","t":311,"v":2.64},{"d":"heating up","t":312,"v":2.63},{"d":"heating up","t":313,"v":2.61},{"d":"heating up","t":314,"v":2.58},{"d":"heating up","t":315,"v":2.62},{"d":"heating up","t":316,"v":2.65},{"d":"heating up","t":317,"v":2.66},{"d":"heating up","t":318,"v":2.66},{"d":"heating up","t":319,"v":2.67},{"d":"heating up","t":320,"v":2.68},{"d":"heating up","t":321,"v":2.66},{"d":"heating up","t":322,"v":2.64},{"d":"heating up","t":323,"v":2.69},{"d":"heating up","t":324,"v":2.67},{"d":"heating up","t":325,"v":2.66},{"d":"heating up","t":326,"v":2.69},{"d":"heating up","t":327,"v":2.7},{"d":"heating up","t":328,"v":2.66},{"d":"heating up","t":329,"v":2.68},{"d":"heating up","t":330,"v":2.7},{"d":"heating up","t":331,"v":2.71},{"d":"heating up","t":332,"v":2.68},{"d":"heating up","t":333,"v":2.69},{"d":"heating up","t":334,"v":2.71},{"d":"heating up","t":335,"v":2.72},{"d":"heating up","t":336,"v":2.69},{"d":"heating up","t":337,"v":2.7},{"d":"heating up","t":338,"v":2.72},{"d":"heating up","t":339,"v":2.68},{"d":"heating up","t":340,"v":2.7},{"d":"heating up","t":341,"v":2.72},{"d":"heating up","t":342,"v":2.73},{"d":"heating up","t":343,"v":2.7},{"d":"heating up","t":344,"v":2.68},{"d":"heating up","t":345,"v":2.64}
    ]
  },
  "hconcat": [
    {
      "width": 249, "height": 351,
      "layer": [
        {
          "data": {"name": "spectra"},
          "mark": {"type": "line", "color": "#1a1a1a", "clip": true},
          "encoding": {
            "x": {"field": "e", "type": "quantitative", "scale": {"domain": [1.7, 3.205], "nice": false, "zero": false},
              "axis": {"orient": "bottom", "title": "Photon energy (eV)", "values": [2, 2.5, 3], "labelExpr": "datum.value % 1 === 0 ? format(datum.value, 'd') : ''", "tickSize": {"condition": {"test": "datum.value % 1 === 0", "value": -8}, "value": -4}, "labelPadding": 14, "titlePadding": 16}},
            "y": {"field": "v", "type": "quantitative", "scale": {"domain": [-1.37, 10.99], "nice": false, "zero": false},
              "axis": {"orient": "left", "title": "Re(Δr/r) (10⁻³)", "values": [-1, 0, 1, 2, 3, 4, 5, 6, 7, 8, 9, 10], "labelExpr": "datum.value % 2 === 0 ? format(datum.value, 'd') : ''", "tickSize": {"condition": {"test": "datum.value % 2 === 0", "value": -8}, "value": -4}, "labelPadding": 18, "titlePadding": 5}},
            "strokeDash": {"field": "s", "type": "nominal",
              "scale": {"domain": ["clean 12 K", "0.5 L O₂ 12 K", "200 K", "250 K", "300 K", "500 K"], "range": [[1, 0], [1, 0], [9, 6], [2, 2], [9, 3, 2, 3], [5, 4]]},
              "legend": {"orient": "none", "legendX": 98, "legendY": 16, "title": null, "symbolType": "stroke", "symbolSize": 1444, "clipHeight": 18.5, "symbolStrokeColor": "#1a1a1a", "symbolStrokeWidth": 1.6, "labelFontSize": 16, "labelFont": "Liberation Sans", "labelColor": "#111", "labelOffset": 3, "rowPadding": 2}},
            "strokeWidth": {"condition": [{"test": "datum.s === 'clean 12 K'", "value": 1}, {"test": "datum.s === '0.5 L O₂ 12 K'", "value": 2.4}], "value": 1.6}
          }
        },
        {
          "data": {"name": "spectra"},
          "mark": {"type": "line", "opacity": 0},
          "encoding": {
            "x": {"field": "e", "type": "quantitative", "scale": {"domain": [1.7, 3.205], "nice": false, "zero": false},
              "axis": {"orient": "top", "title": null, "labels": false, "values": [2, 2.5, 3], "tickSize": {"condition": {"test": "datum.value % 1 === 0", "value": -7}, "value": -4}}},
            "y": {"field": "v", "type": "quantitative", "scale": {"domain": [-1.37, 10.99], "nice": false, "zero": false}, "axis": null}
          }
        },
        {
          "data": {"values": [{"label": "(a)", "e": 1.877, "v": -0.42}]},
          "mark": {"type": "text", "fontSize": 19, "font": "Liberation Sans", "color": "#111"},
          "encoding": {
            "x": {"field": "e", "type": "quantitative", "axis": null},
            "y": {"field": "v", "type": "quantitative", "axis": null},
            "text": {"field": "label"}
          }
        }
      ],
      "resolve": {"axis": {"x": "independent", "y": "independent"}}
    },
    {
      "width": 249, "height": 351,
      "layer": [
        {
          "data": {"name": "temp"},
          "mark": {"type": "point", "shape": "circle", "filled": true, "stroke": "#2a2a2a", "strokeWidth": 0.8, "size": 50, "opacity": 1},
          "encoding": {
            "x": {"field": "t", "type": "quantitative", "scale": {"domain": [-26, 376], "nice": false, "zero": false},
              "axis": {"orient": "bottom", "title": "Temperature (K)", "values": [0, 20, 40, 60, 80, 100, 120, 140, 160, 180, 200, 220, 240, 260, 280, 300, 320, 340, 360], "labelExpr": "datum.value % 100 === 0 ? format(datum.value, 'd') : ''", "tickSize": {"condition": {"test": "datum.value % 100 === 0", "value": -8}, "value": -4}, "labelPadding": 14, "titlePadding": 16}},
            "y": {"field": "v", "type": "quantitative", "scale": {"domain": [1.655, 3.404], "nice": false, "zero": false},
              "axis": {"orient": "right", "title": "Re(Δr/r) at 2.13 eV (10⁻³)", "titleAngle": 270, "titleBaseline": "top", "values": [1.7, 1.8, 1.9, 2.0, 2.1, 2.2, 2.3, 2.4, 2.5, 2.6, 2.7, 2.8, 2.9, 3.0, 3.1, 3.2, 3.3], "labelExpr": "round(datum.value * 10) % 2 === 0 ? format(datum.value, '.1f') : ''", "tickSize": {"condition": {"test": "round(datum.value * 10) % 2 === 0", "value": -8}, "value": -4}, "labelPadding": 17, "titlePadding": 8}},
            "color": {"field": "d", "type": "nominal", "scale": {"domain": ["heating up", "cooling down"], "range": ["#111111", "transparent"]},
              "legend": {"orient": "none", "legendX": 345, "legendY": 26, "title": null, "symbolType": "circle", "symbolSize": 40, "symbolStrokeColor": "#222", "symbolStrokeWidth": 0.9, "symbolOpacity": 1, "labelFontSize": 16, "labelFont": "Liberation Sans", "labelColor": "#111", "labelOffset": 11, "rowPadding": 4}}
          }
        },
        {
          "data": {"name": "temp"},
          "mark": {"type": "point", "opacity": 0},
          "encoding": {
            "x": {"field": "t", "type": "quantitative", "scale": {"domain": [-26, 376], "nice": false, "zero": false},
              "axis": {"orient": "top", "title": null, "labels": false, "values": [0, 20, 40, 60, 80, 100, 120, 140, 160, 180, 200, 220, 240, 260, 280, 300, 320, 340, 360], "tickSize": {"condition": {"test": "datum.value % 100 === 0", "value": -7}, "value": -4}}},
            "y": {"field": "v", "type": "quantitative", "scale": {"domain": [1.655, 3.404], "nice": false, "zero": false},
              "axis": {"orient": "left", "title": null, "labels": false, "values": [1.7, 1.8, 1.9, 2.0, 2.1, 2.2, 2.3, 2.4, 2.5, 2.6, 2.7, 2.8, 2.9, 3.0, 3.1, 3.2, 3.3], "tickSize": -4}}
          }
        },
        {
          "data": {"values": [{"label": "(b)", "t": 24, "v": 1.805}]},
          "mark": {"type": "text", "fontSize": 19, "font": "Liberation Sans", "color": "#111"},
          "encoding": {
            "x": {"field": "t", "type": "quantitative", "axis": null},
            "y": {"field": "v", "type": "quantitative", "axis": null},
            "text": {"field": "label"}
          }
        }
      ],
      "resolve": {"axis": {"x": "independent", "y": "independent"}}
    }
  ]
}
